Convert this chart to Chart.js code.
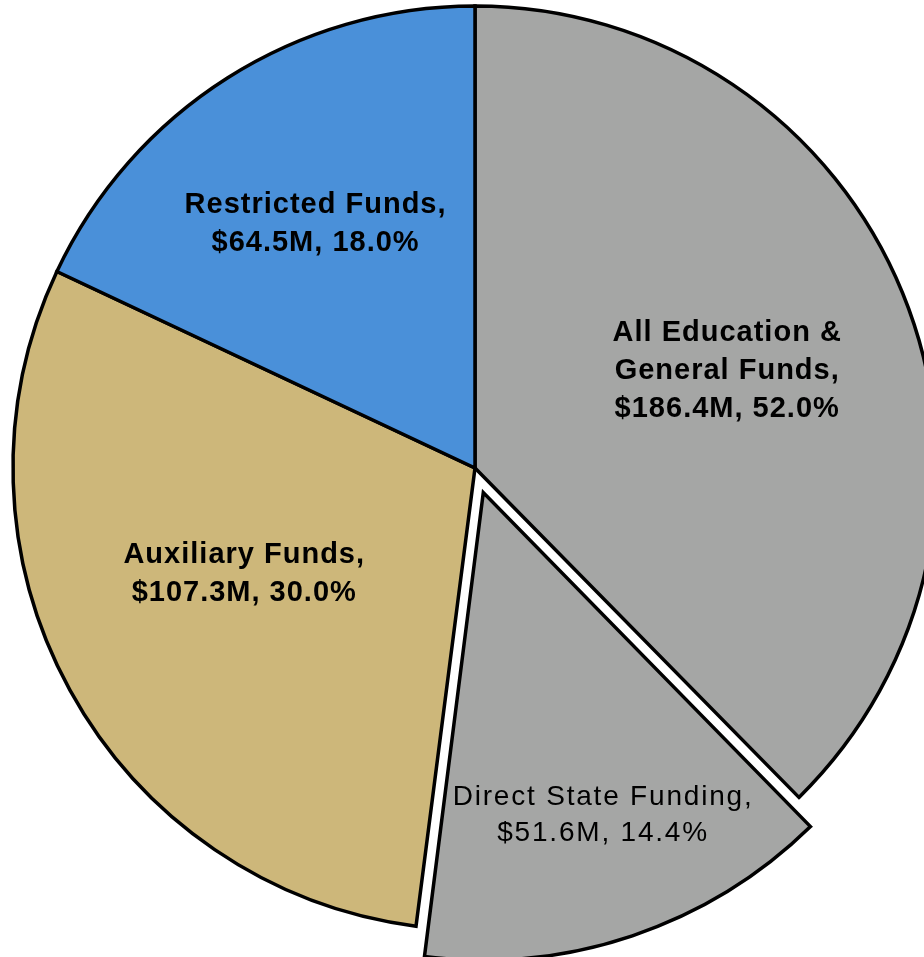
<!DOCTYPE html>
<html>
<head>
<meta charset="utf-8">
<script src="https://cdn.jsdelivr.net/npm/chart.js@4/dist/chart.umd.min.js"></script>
<style>
    html, body { margin: 0; padding: 0; background: #fff; overflow: hidden; }
    #grafico { position: relative; width: 950px; height: 957px; }
</style>
</head>
<body>
<div id="grafico"><canvas id="graficoFundos"></canvas></div>
<script>
// fatias no sentido horário a partir do topo
const categorias = ['All Education & General Funds', 'Direct State Funding', 'Auxiliary Funds', 'Restricted Funds'];
// em milhões; o total de E&G já inclui o Direct State Funding
const totaisFundos = [186.4, 51.6, 107.3, 64.5];
const linhasNome = [['All Education &', 'General Funds,'], ['Direct State Funding,'], ['Auxiliary Funds,'], ['Restricted Funds,']];

const valoresFatias = [totaisFundos[0] - totaisFundos[1], totaisFundos[1], totaisFundos[2], totaisFundos[3]];
const totalGeral = totaisFundos[0] + totaisFundos[2] + totaisFundos[3];

// estilo das fatias e dos rótulos
const cores = ['#a5a6a5', '#a5a6a5', '#cdb77a', '#4a90d9'];
const deslocamentos = [0, 104, 0, 0];
const raioRotulo = [0.585, 0.744, 0.55, 0.63];
const ajusteAngulo = [1.2, -1.8, 4, -0.8];
const negrito = [true, false, true, true];

const plugRotulos = {
    id: 'rotulos',
    afterDatasetsDraw(chart) {
        const ctx = chart.ctx;
        const arcos = chart.getDatasetMeta(0).data;
        arcos.forEach((arco, i) => {
            const meio = (arco.startAngle + arco.endAngle) / 2;
            const desl = deslocamentos[i] / 4;
            const cx = arco.x + Math.cos(meio) * desl;
            const cy = arco.y + Math.sin(meio) * desl;
            const ang = meio + ajusteAngulo[i] * Math.PI / 180;
            const r = arco.outerRadius * raioRotulo[i];
            const x = cx + Math.cos(ang) * r;
            const y = cy + Math.sin(ang) * r;

            const pct = (totaisFundos[i] / totalGeral * 100).toFixed(1);
            const linhas = linhasNome[i].concat([`$${totaisFundos[i].toFixed(1)}M, ${pct}%`]);

            ctx.save();
            ctx.fillStyle = '#000';
            ctx.textAlign = 'center';
            ctx.textBaseline = 'middle';
            if (negrito[i]) {
                ctx.font = 'bold 29px "Liberation Sans", Arial, sans-serif';
                ctx.letterSpacing = '1px';
            } else {
                ctx.font = '28px "Liberation Sans", Arial, sans-serif';
                ctx.letterSpacing = '1.8px';
            }
            const passo = negrito[i] ? 38 : 36;
            linhas.forEach((txt, j) => {
                ctx.fillText(txt, x, y + (j - (linhas.length - 1) / 2) * passo);
            });
            ctx.restore();
        });
    }
};

const ctxPizza = document.getElementById('graficoFundos').getContext('2d');
const graficoPizza = new Chart(ctxPizza, {
    type: 'pie',
    data: {
        labels: categorias,
        datasets: [{
            data: valoresFatias,
            backgroundColor: cores,
            borderColor: '#000',
            borderWidth: 3.5,
            borderJoinStyle: 'miter',
            offset: deslocamentos,
            clip: false
        }]
    },
    options: {
        responsive: true,
        maintainAspectRatio: false,
        animation: false,
        events: [],
        radius: 462,
        layout: { padding: { bottom: 21 } },
        plugins: {
            legend: { display: false },
            tooltip: { enabled: false }
        }
    },
    plugins: [plugRotulos]
});
</script>
</body>
</html>
